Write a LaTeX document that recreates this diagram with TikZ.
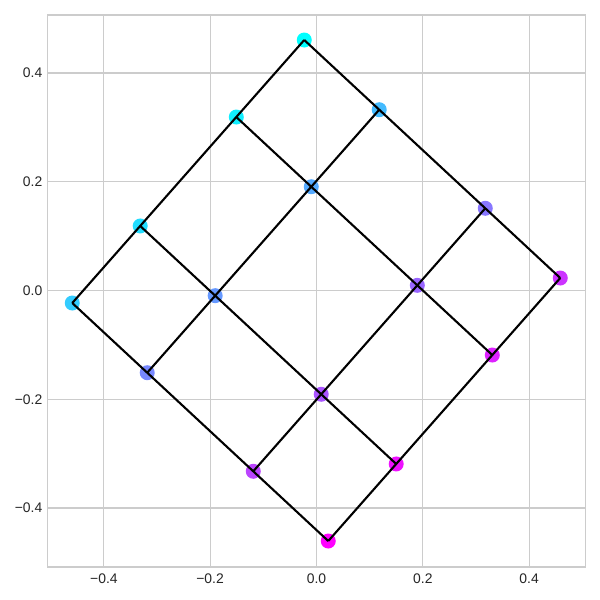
\documentclass[tikz,border=0pt]{standalone}
\usepackage{fontspec}
\setmainfont{Liberation Sans}
\definecolor{cmcyan}{rgb}{0,1,1}
\definecolor{cmmag}{rgb}{1,0,1}
\definecolor{gridgray}{rgb}{0.8,0.8,0.8}
\definecolor{labelgray}{rgb}{0.15,0.15,0.15}
\begin{document}
\begin{tikzpicture}[x=1pt,y=-1pt,
  gridline/.style={draw=gridgray, line width=1.1pt},
  spine/.style={draw=gridgray, line width=1.5pt},
  ticklabel/.style={font=\fontsize{13.9}{16}\selectfont, text=labelgray, inner sep=0pt},
  marker/.style={circle, inner sep=0pt, minimum size=15pt, draw=none},
  mesh/.style={draw=black, line width=2.1pt}]
\useasboundingbox (0,0) rectangle (600,600);
\fill[white] (0,0) rectangle (600,600);
% grid lines
\foreach \gx in {103.9,210.1,316.5,422.9,529.1}
  \draw[gridline] (\gx,15) -- (\gx,567);
\foreach \gy in {73,181.75,290.5,399.25,508}
  \draw[gridline] (47.5,\gy) -- (585.5,\gy);
% spines
\draw[spine] (47.5,15) rectangle (585.5,567);
% tick labels
\node[ticklabel, anchor=base] (xt1) at (103.9,583.5) {−0.4};
\node[ticklabel, anchor=base] (xt2) at (210.1,583.5) {−0.2};
\node[ticklabel, anchor=base] (xt3) at (316.5,583.5) {0.0};
\node[ticklabel, anchor=base] (xt4) at (422.9,583.5) {0.2};
\node[ticklabel, anchor=base] (xt5) at (529.1,583.5) {0.4};
\node[ticklabel, anchor=east] (yt1) at (42.5,73) {0.4};
\node[ticklabel, anchor=east] (yt2) at (42.5,181.75) {0.2};
\node[ticklabel, anchor=east] (yt3) at (42.5,290.5) {0.0};
\node[ticklabel, anchor=east] (yt4) at (42.5,399.25) {−0.2};
\node[ticklabel, anchor=east] (yt5) at (42.5,508) {−0.4};
% markers
\foreach \i/\ai in {0/-1,1/-0.41421,2/0.41421,3/1}{
  \foreach \j/\aj in {0/-1,1/-0.41421,2/0.41421,3/1}{
    \pgfmathsetmacro\px{316.25+116*\ai+128*\aj}
    \pgfmathsetmacro\py{290.5-131.5*\ai+119*\aj}
    \pgfmathsetmacro\pc{100*(4*\j+3-\i)/15}
    \node[marker, fill=cmmag!\pc!cmcyan] (p\i\j) at (\px,\py) {};
  }
}
% mesh lines
\foreach \i in {0,...,3}
  \draw[mesh] (p\i0.center) -- (p\i1.center) -- (p\i2.center) -- (p\i3.center);
\foreach \j in {0,...,3}
  \draw[mesh] (p0\j.center) -- (p1\j.center) -- (p2\j.center) -- (p3\j.center);
\end{tikzpicture}
\end{document}
